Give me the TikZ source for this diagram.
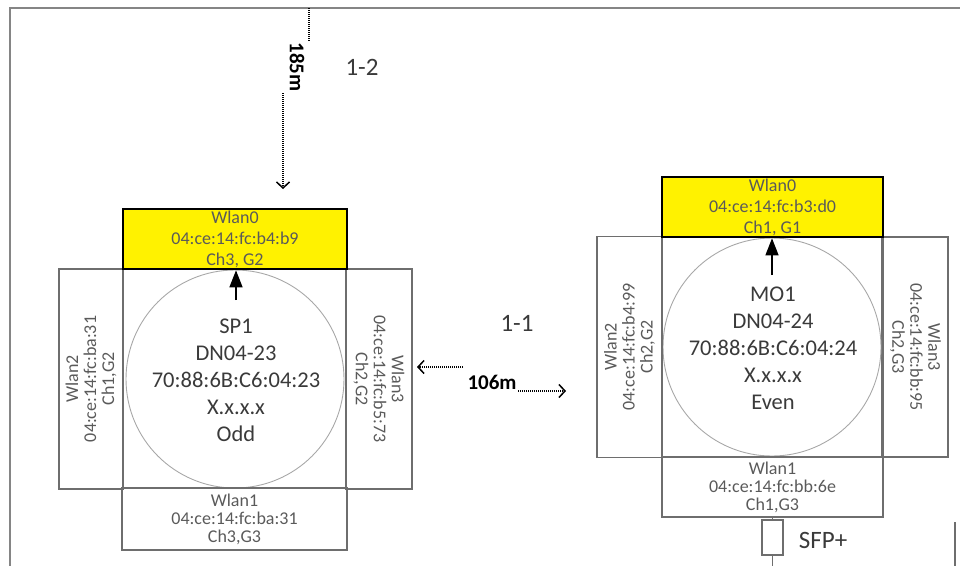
\documentclass[tikz,border=0pt]{standalone}
\usepackage{fontspec}
\setmainfont{Carlito}
\usetikzlibrary{arrows.meta}

\definecolor{boxgray}{HTML}{6E6E6E}
\definecolor{ringgray}{HTML}{A8A8A8}
\definecolor{textgray}{HTML}{5A5A5A}
\definecolor{inkgray}{HTML}{3A3A3A}
\definecolor{sheetgray}{HTML}{858585}

\begin{document}
\begin{tikzpicture}[x=1pt, y=-1pt, line width=1.2pt,
  wlan/.style={draw=boxgray, line width=1.4pt, inner sep=0pt, align=center,
    text=textgray, font=\fontsize{18}{18}\selectfont},
  wlanmain/.style={wlan, draw=black, line width=2.6pt, fill=yellow,
    font=\fontsize{18}{21}\selectfont},
  ring/.style={draw=ringgray, line width=0.9pt, circle, inner sep=0pt},
  info/.style={align=center, text=inkgray, font=\fontsize{22.5}{27}\selectfont},
  uplink/.style={draw=black, line width=1.3pt, -{Triangle[length=17pt,width=13pt]}},
  dist/.style={line width=1.2pt, dash pattern=on 1pt off 1pt,
    -{Straight Barb[length=6pt,width=13pt,line width=1.5pt]}},
  distlabel/.style={text=black, font=\bfseries\fontsize{21}{21}\selectfont, inner sep=1pt},
  tag/.style={text=inkgray, font=\fontsize{25}{25}\selectfont},
  sheet/.style={draw=sheetgray, line width=2.6pt},
]
\useasboundingbox (0,0) rectangle (960,565);

% page edges
\draw[sheet] (10,566) -- (10,8) -- (961,8);
\coordinate (edgeT) at (955,522);
\coordinate (edgeB) at (955,566);
\draw[boxgray, line width=1.2pt] (edgeT) -- (edgeB);

% SP1 (odd)
\begin{scope}[shift={(234.5,379)}]
  \node[wlan, minimum width=223pt, minimum height=219pt] (core) at (0,0) {};
  \node[ring, minimum size=218pt] (ring) at (0.5,0) {};
  \node[wlan, minimum width=225pt, minimum height=62pt] (w1) at (0,140) {Wlan1\\04:ce:14:fc:ba:31\\Ch3,G3};
  \node[wlan, rotate=90, minimum width=220pt, minimum height=64pt] (w2) at (-143.5,0) {Wlan2\\04:ce:14:fc:ba:31\\Ch1,G2};
  \node[wlan, rotate=-90, minimum width=220pt, minimum height=66pt] (w3) at (144.5,0) {Wlan3\\04:ce:14:fc:b5:73\\Ch2,G2};
  \node[wlanmain, minimum width=224pt, minimum height=60pt] (w0) at (0.5,-140) {Wlan0\\04:ce:14:fc:b4:b9\\Ch3, G2};
  \node[info] (id) at (1.5,1) {SP1\\DN04-23\\70:88:6B:C6:04:23\\X.x.x.x\\Odd};
  \coordinate (up) at (1.5,-79);
  \draw[uplink] (up) -- (w0.south -| up);
\end{scope}

% MO1 (even)
\begin{scope}[shift={(772,347)}]
  \node[wlan, minimum width=220pt, minimum height=220pt] (core) at (0,0) {};
  \node[ring, minimum size=218pt] (ring) at (0,0) {};
  \node[wlan, minimum width=221pt, minimum height=60pt] (w1) at (0.5,140) {Wlan1\\04:ce:14:fc:bb:6e\\Ch1,G3};
  \node[wlan, rotate=90, minimum width=221pt, minimum height=65pt] (w2) at (-142.5,0) {Wlan2\\04:ce:14:fc:b4:99\\Ch2,G2};
  \node[wlan, rotate=-90, minimum width=220pt, minimum height=65pt] (w3) at (143.5,0) {Wlan3\\04:ce:14:fc:bb:95\\Ch2,G3};
  \node[wlanmain, minimum width=221pt, minimum height=60pt] (w0) at (0.5,-140) {Wlan0\\04:ce:14:fc:b3:d0\\Ch1, G1};
  \node[info] (id) at (1,1) {MO1\\DN04-24\\70:88:6B:C6:04:24\\X.x.x.x\\Even};
  \coordinate (up) at (0,-72);
  \draw[uplink] (up) -- (w0.south -| up);

  \node[wlan, minimum width=21pt, minimum height=35pt] (sfp) at (0.5,190.5) {};
  \node[tag, anchor=west] (sfplabel) at (23,193) {SFP+};
  \coordinate (fibre) at (0.5,219);
  \draw[boxgray, line width=1.4pt] (w1.south -| sfp) -- (sfp.north);
  \draw[boxgray, line width=1.4pt] (sfp.south) -- (fibre);
\end{scope}

% links
\node[tag] (l12) at (362,67) {1-2};
\node[tag] (l11) at (517,323) {1-1};

\coordinate (feed) at (309,8);
\node[distlabel, rotate=-90] (d185) at (297,67) {185m};
\coordinate (dropA) at (283,93);
\coordinate (dropB) at (283,189);
\draw[line width=1.2pt, dash pattern=on 1pt off 1pt] (feed) -- (feed |- d185.west);
\draw[dist] (dropA) -- (dropB);

\node[distlabel] (d106) at (492,382) {106m};
\coordinate (westA) at (463,367);
\coordinate (westB) at (417,367);
\coordinate (eastA) at (518,391);
\coordinate (eastB) at (566,391);
\draw[dist] (westA) -- (westB);
\draw[dist] (eastA) -- (eastB);

\end{tikzpicture}
\end{document}
